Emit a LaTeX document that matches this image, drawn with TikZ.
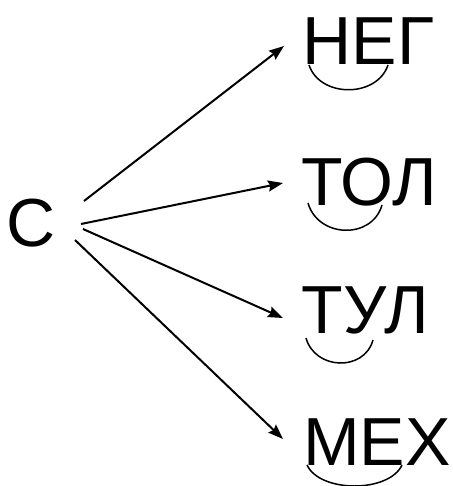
\documentclass[tikz,border=0pt]{standalone}
\usepackage{fontspec}
\setmainfont{Liberation Sans}
\usetikzlibrary{arrows.meta}
\begin{document}
\begin{tikzpicture}[x=1pt,y=-1pt,
  word/.style={inner sep=0pt,anchor=base west,font=\fontsize{68}{80}\selectfont},
  arr/.style={line width=2pt,-{Stealth[length=15pt,width=11pt,inset=2pt]}},
  arc/.style={line width=1.5pt}]
\useasboundingbox (0,0) rectangle (452,486);
\node[word] (c) at (6.5,246) {С};
\node[word] (neg) at (302.5,65) {НЕГ};
\node[word] (tol) at (301.5,205) {ТОЛ};
\node[word] (tul) at (301.5,333) {ТУЛ};
\node[word] (mex) at (303,465) {МЕХ};
\coordinate (s1) at (84,201);
\coordinate (s2) at (81,224);
\coordinate (s3) at (83,229);
\coordinate (s4) at (75,240);
\coordinate (e1) at (284,46);
\coordinate (e2) at (283,183);
\coordinate (e3) at (283,318);
\coordinate (e4) at (283,439);
\draw[arr] (s1) -- (e1);
\draw[arr] (s2) -- (e2);
\draw[arr] (s3) -- (e3);
\draw[arr] (s4) -- (e4);
\draw[arc] (309,65) .. controls (320,98) and (377,98) .. (388,65);
\draw[arc] (308,203) .. controls (318,238) and (372,240) .. (382,205);
\draw[arc] (306,338) .. controls (315,370) and (364,372) .. (373,340);
\draw[arc] (307,465) .. controls (320,493) and (389,493) .. (402,465);
\end{tikzpicture}
\end{document}
